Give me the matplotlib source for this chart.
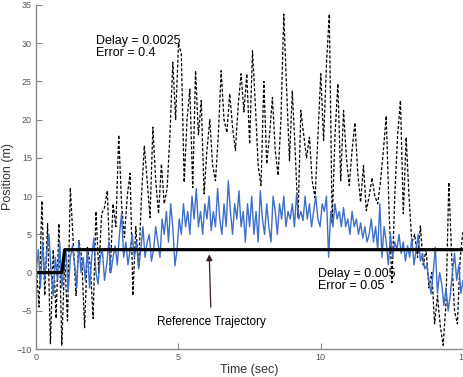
import numpy as np
import matplotlib
matplotlib.use("Agg")
from matplotlib import pyplot as plt

plt.rcParams['font.family'] = ['Liberation Sans', 'DejaVu Sans']

## dashed response, delay = 0.0025 (one sample every 0.1 s)
t_slow = np.arange(151) * 0.1
pos_slow = [1, -4.5, 9.4, -3, 6.4, -9.3, 3, -6, 6.4, -9.5,
            2, -6.3, 11.1, 4, -3, 4.2, 2, -7.2, 3.3, 1,
            -6, 8, 0, 7.7, 8.5, 10.7, 0, 9, 6, 18,
            9, 4.6, 10, 13, -3, 6, 0.7, 10, 16.6, 12,
            7.2, 19, 12, 7.7, 14.2, 9, 11, 18, 27.5, 20,
            30, 28.6, 11.8, 20, 24, 11.1, 26.4, 18, 22.5, 10.3,
            16, 20, 14, 12, 18, 26.4, 20, 18.3, 23.4, 19,
            16, 22, 26, 21, 26, 16.8, 29, 22, 14, 11.4,
            25, 14.2, 18, 22.9, 16, 12.7, 20, 33.8, 24, 14.6,
            23.8, 16, 7.2, 21.2, 18, 15, 17.7, 12, 9.8, 18,
            26, 17.3, 27.3, 33.8, 6.4, 18, 24.7, 12, 21.2, 15,
            11.4, 16, 19.6, 13, 9.2, 14, 8.1, 10, 12.4, 10,
            9, 12, 16, 20.5, 8, -1.3, 10, 18, 22.5, 7.7,
            17.7, 10, 3.9, 5, 2, 6.1, 1, 3, -2, 0,
            -6.7, -3, -7, -9.5, -4, 11.8, 2, -5, -6.7, 2,
            5.5]

## blue response, delay = 0.005 (one sample every 0.075 s)
t_fast = np.arange(201) * 0.075
pos_fast = [0, 3, -2, 4, -1, 3, 5, 0, -3, 2, -1, 4, -2, 1, 3, -2.5, 2, 3.5, 1, -2,
            4, 0, 2, -1, 3, -2, 2, 4.5, 0, -1.5, 2, 3, -1, 1, 4, 0, 2, 3.5, 1, 5,
            7.7, 2, 4, 1, 3, 5, 2, 4, 0.5, 3, 6, 2, 4, 5, 1.5, 3, 6, 4, 2, 7,
            5, 8, 4, 9, 6, 0.9, 3, 7, 5, 9, 6, 8, 5, 10, 7, 11, 6, 8, 5, 9,
            7, 10, 5.5, 8, 6, 11, 7, 5, 9, 6, 12, 8, 5, 9, 7, 10.7, 6, 8, 4, 9,
            6, 10, 5, 8, 4, 10.7, 7, 5, 9, 6, 4, 10, 8, 5, 9, 7, 10, 6, 8, 7,
            9, 6, 10.3, 7, 8, 6.8, 10, 7, 9, 6, 8, 10, 7, 6, 9, 8, 10, 2, 8, 6,
            9, 7, 8, 6, 8.5, 6, 7, 5, 8, 6, 7, 5, 6.5, 4.5, 6, 4, 5, 7, 4, 6,
            3, 9, 2, 6, 4, 1, 5, 2, 4, 3, 5, 2.5, 4, 1.5, 3.5, 2, 4.5, 1, 3, 5,
            1.5, 2.5, 0.5, 1, -1, -2.8, 0, 3.3, -2.7, 0, -1.5, -4.3, -2, -5, -3, 0, 2.5, -1, 1, -2.7,
            -1]

## reference trajectory
t_ref = [0, 0.9, 1.0, 15]
pos_ref = [0, 0, 3, 3]

x_ticks = [0, 5, 10, 15]
y_ticks = [-10, -5, 0, 5, 10, 15, 20, 25, 30, 35]

fig = plt.figure(figsize=(4.64, 3.77), dpi=100)
ax = fig.add_axes([0.078, 0.074, 0.92, 0.913])

ax.plot(t_slow, pos_slow, color='black', lw=0.9, ls=(0, (2.5, 1.5)))
ax.plot(t_fast, pos_fast, color='#3f6fc8', lw=1.0)
ax.plot(t_ref, pos_ref, color='black', lw=2.3)

ax.set_xlim(0, 15)
ax.set_ylim(-10, 35)
ax.set_xticks(x_ticks)
ax.set_yticks(y_ticks)

for s in ['top', 'right']:
    ax.spines[s].set_visible(False)
for s in ['left', 'bottom']:
    ax.spines[s].set_color('#8a8a8a')
    ax.spines[s].set_linewidth(1.0)
ax.tick_params(direction='in', length=4, width=0.8, color='#8a8a8a',
               labelsize=6.5, labelcolor='#555555', pad=3)

ax.set_xlabel('Time (sec)', fontsize=9, color='#333333', labelpad=1)
ax.set_ylabel('Position (m)', fontsize=9, color='#333333', labelpad=2)

ax.text(2.1, 31.1, 'Delay = 0.0025\nError = 0.4', fontsize=9, va='top',
        linespacing=1.0)
ax.text(9.9, 0.6, 'Delay = 0.005\nError = 0.05', fontsize=9, va='top',
        linespacing=1.0)
ax.annotate('Reference Trajectory', xy=(6.08, 2.4), xytext=(6.15, -6.4),
            fontsize=8.5, ha='center', va='center',
            arrowprops=dict(arrowstyle='-|>', color='#3a2020', lw=0.9,
                            mutation_scale=9, shrinkA=4, shrinkB=0))

fig.savefig('out.png', dpi=100)
